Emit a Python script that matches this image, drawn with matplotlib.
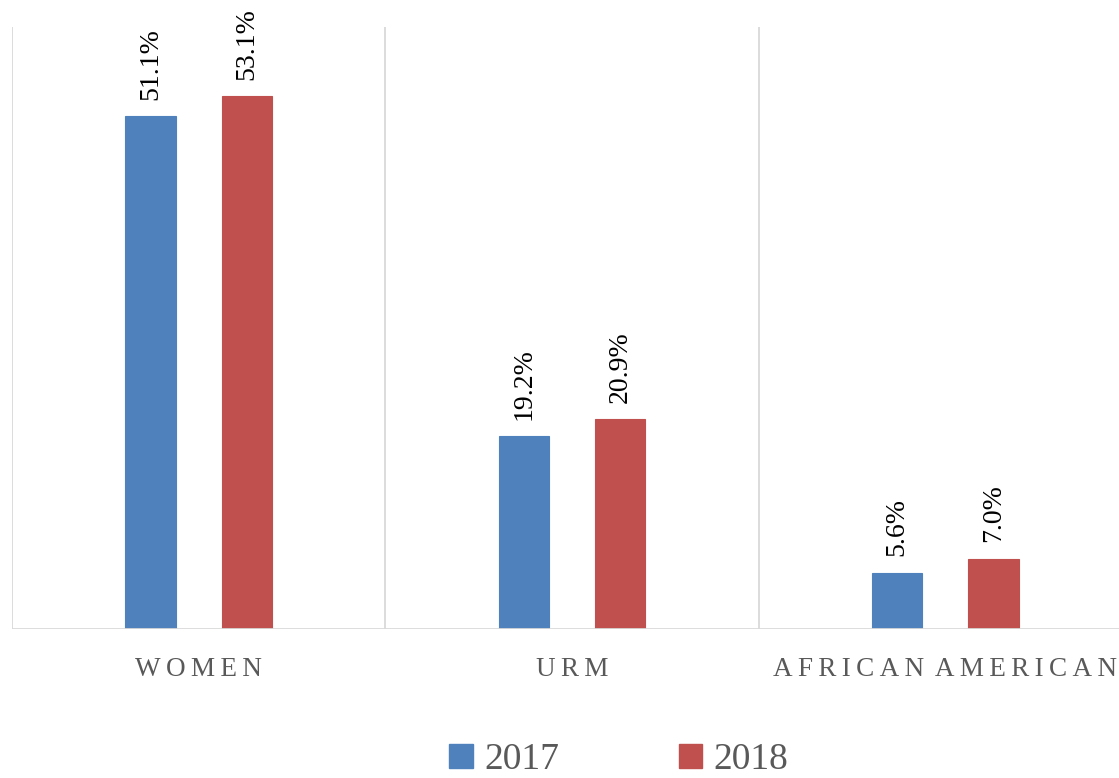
import matplotlib.pyplot as plt
import matplotlib.patches as mpatches
import numpy as np

categories = ["WOMEN", "URM", "AFRICAN AMERICAN"]
years = ["2017", "2018"]
vals_2017 = [51.1, 19.2, 5.6]
vals_2018 = [53.1, 20.9, 7.0]
colors = ["#4f81bd", "#c0504d"]

plt.rcParams['font.family'] = ['Liberation Serif', 'DejaVu Serif']

W, H = 1119, 778
fig = plt.figure(figsize=(W / 100, H / 100), dpi=100)
ax = fig.add_axes([12 / W, (H - 629) / H, 1120 / W, 602 / H])

x = np.arange(len(categories))
bw = 0.134
off = 0.129
for i, (vals, c) in enumerate(zip([vals_2017, vals_2018], colors)):
    pos = x + (off if i else -off)
    bars = ax.bar(pos, vals, bw, color=c, edgecolor=c, linewidth=0.8, zorder=3)
    for b, v in zip(bars, vals):
        ax.annotate(f"{v:.1f}%", (b.get_x() + b.get_width() / 2, v),
                    xytext=(0, 12), textcoords="offset points",
                    ha="center", va="bottom", rotation=90, fontsize=20, color="black")

ax.set_xlim(-0.5, 2.5)
ax.set_ylim(0, 60)
# separators between categories
for s in [-0.5, 0.5, 1.5, 2.5]:
    ax.axvline(s, color="#d9d9d9", lw=1.3, zorder=1)
ax.axhline(0, color="#d9d9d9", lw=2, zorder=4)

for sp in ax.spines.values():
    sp.set_visible(False)
ax.set_yticks([])
ax.set_xticks(x)


def spaced(s):
    # wide tracking like the original caps
    return "\u2009\u2009".join("\u2009".join(w) for w in s.split(" "))


ax.set_xticklabels([spaced(c) for c in categories], fontsize=19.5, color="#595959")
ax.tick_params(axis="x", length=0, pad=20)

handles = [mpatches.Patch(color=c, label=y) for c, y in zip(colors, years)]
leg = fig.legend(handles=handles, loc="lower center", bbox_to_anchor=(0.553, -0.042),
                 ncol=2, frameon=False, fontsize=27, handlelength=0.62, handleheight=0.62,
                 handletextpad=0.3, columnspacing=3.2)
for t in leg.get_texts():
    t.set_color("#595959")

fig.savefig("out.png", dpi=100)
